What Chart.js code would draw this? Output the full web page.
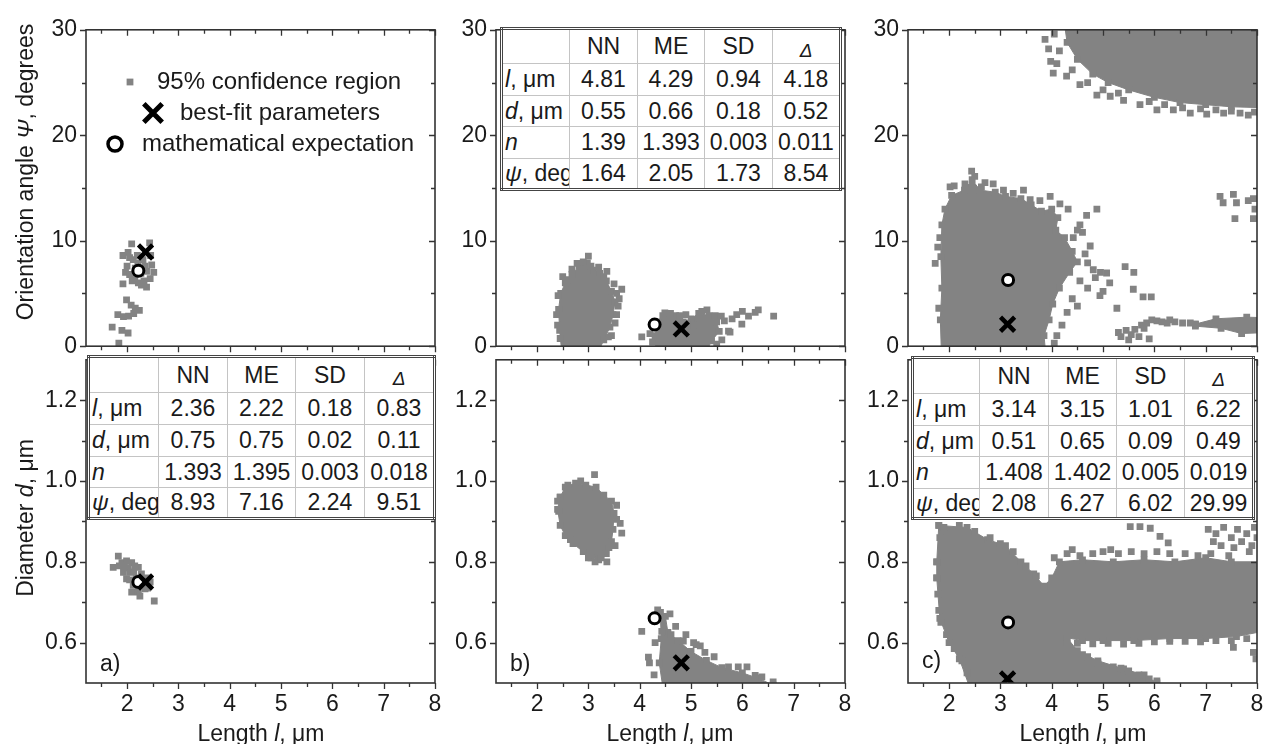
<!DOCTYPE html>
<html>
<head>
<meta charset="utf-8">
<title>Confidence regions: length, diameter, orientation angle</title>
<script src="https://cdn.jsdelivr.net/npm/chart.js@4.4.0/dist/chart.umd.min.js"></script>
<style>
  html, body { margin: 0; padding: 0; background: #fff; }
  body { width: 1263px; height: 744px; position: relative; overflow: hidden;
         font-family: Arial, 'Liberation Sans', sans-serif; color: #1a1a1a; }
  canvas { position: absolute; }
  .txt { position: absolute; font-size: 23px; white-space: nowrap; line-height: 1; }
  .ytitle { transform: translate(-50%, -50%) rotate(-90deg); }
  .xtitle { transform: translate(-50%, -50%); }
  .stats { position: absolute; border-collapse: collapse; table-layout: fixed;
           background: #fff; border: 3px double #444; font-size: 23px; }
  .stats td { border: 1px solid #c4c4c4; padding: 0; text-align: center;
              white-space: nowrap; overflow: hidden; line-height: 1; }
  .stats td.lab { text-align: left; padding-left: 2px; }
  .stats td.delta { font-size: 19px; padding-top: 7px; }
</style>
</head>
<body>

<canvas id="aTop"></canvas>
<canvas id="aBot"></canvas>
<canvas id="bTop"></canvas>
<canvas id="bBot"></canvas>
<canvas id="cTop"></canvas>
<canvas id="cBot"></canvas>

<div class="txt ytitle" style="left:25px; top:172px;">Orientation angle <i>Ψ</i>, degrees</div>
<div class="txt ytitle" style="left:25px; top:518px;">Diameter <i>d</i>, μm</div>
<div class="txt xtitle" style="left:261px; top:733px;">Length <i>l</i>, μm</div>
<div class="txt xtitle" style="left:670px; top:733px;">Length <i>l</i>, μm</div>
<div class="txt xtitle" style="left:1083px; top:733px;">Length <i>l</i>, μm</div>
<div class="txt" style="left:100px; top:652px;">a)</div>
<div class="txt" style="left:510px; top:652px;">b)</div>
<div class="txt" style="left:922px; top:649px;">c)</div>

<script>
// Axis ticks
const X_TICKS = [2, 3, 4, 5, 6, 7, 8];
const X_MINOR = [1.5, 2.5, 3.5, 4.5, 5.5, 6.5, 7.5];
const PSI_TICKS = [0, 10, 20, 30];
const PSI_MINOR = [5, 15, 25];
const D_TICKS = [0.6, 0.8, 1.0, 1.2];
const D_MINOR = [0.7, 0.9, 1.1];

// Table columns: NN, ME, SD, Delta
const STAT_COLS = ['NN', 'ME', 'SD', 'Δ'];
const A_L = [2.36, 2.22, 0.18, 0.83];
const A_D = [0.75, 0.75, 0.02, 0.11];
const A_N = [1.393, 1.395, 0.003, 0.018];
const A_PSI = [8.93, 7.16, 2.24, 9.51];
const B_L = [4.81, 4.29, 0.94, 4.18];
const B_D = [0.55, 0.66, 0.18, 0.52];
const B_N = [1.39, 1.393, 0.003, 0.011];
const B_PSI = [1.64, 2.05, 1.73, 8.54];
const C_L = [3.14, 3.15, 1.01, 6.22];
const C_D = [0.51, 0.65, 0.09, 0.49];
const C_N = [1.408, 1.402, 0.005, 0.019];
const C_PSI = [2.08, 6.27, 6.02, 29.99];

// 95% confidence region samples, [l, psi] and [l, d]
const A_TOP_PTS = [[2.09,9.7],[2.44,9.8],[1.92,8.6],[2.02,8.9],[2.12,8.2],[2.31,8.2],[2.46,8.6],[2.21,7.9],
  [1.97,7.0],[2.05,6.8],[2.15,6.6],[2.27,6.9],[2.38,7.1],[2.52,7.0],[2.45,6.4],[2.33,6.2],[2.22,6.0],
  [2.1,6.2],[1.92,5.9],[2.38,5.6],[2.28,5.8],[2.05,8.4],[2.2,8.6],[2.35,7.6],[2.16,7.4],[2.48,7.7],
  [2.0,7.6],[1.99,4.4],[2.08,3.9],[2.16,3.6],[2.24,3.4],[1.82,3.0],[1.93,2.8],[2.03,2.85],[2.13,3.1],
  [1.71,1.8],[1.9,1.5],[2.02,1.25],[1.84,0.3]];
const A_BOT_PTS = [[1.83,0.814],[1.73,0.786],[1.90,0.798],[1.99,0.802],[2.09,0.798],[2.22,0.786],[1.93,0.774],
  [2.06,0.774],[1.99,0.758],[2.12,0.742],[2.09,0.725],[2.22,0.725],[2.35,0.733],[2.45,0.75],[2.53,0.703],
  [2.15,0.79],[2.02,0.785],[1.85,0.79],[2.28,0.77],[2.18,0.76],[2.3,0.745],[2.4,0.735],[2.25,0.715],
  [2.05,0.755],[1.95,0.79],[2.13,0.775],[2.38,0.76]];

const B_TOP_HULL_1 = [[2.48,-0.5],[2.44,1.5],[2.42,3.5],[2.46,5.0],[2.55,6.0],[2.68,6.8],[2.82,7.6],[2.98,7.9],
  [3.1,7.2],[3.22,6.9],[3.35,6.2],[3.45,5.2],[3.52,4.2],[3.48,3.0],[3.42,1.8],[3.3,0.6],[3.2,-0.5]];
const B_TOP_HULL_2 = [[4.32,-0.5],[4.3,1.0],[4.35,2.3],[4.45,2.9],[4.7,2.9],[4.85,2.3],[5.0,2.6],[5.15,3.1],
  [5.35,2.9],[5.5,2.3],[5.55,1.4],[5.4,0.5],[5.3,-0.5]];
const B_TOP_PTS = [[3.0,8.55],[2.78,7.85],[3.36,7.1],[3.65,5.4],[3.6,4.5],[3.55,3.0],[3.39,0.88],[2.45,0.73],
  [2.41,4.8],[2.58,6.3],[3.2,7.5],[2.9,8.0],[3.05,7.6],[3.5,5.9],[3.58,3.8],[3.45,1.0],[3.52,2.2],
  [2.38,3.0],[2.40,2.0],[2.5,6.6],[2.68,7.3],[3.3,6.6],[3.55,5.0],
  [4.04,0.88],[4.2,1.2],[4.49,3.15],[4.6,3.1],[4.78,2.9],[5.21,3.3],[5.31,3.45],[5.47,2.9],[5.59,2.85],
  [5.73,1.42],[5.76,1.33],[5.89,3.0],[5.99,2.09],[6.12,2.85],[6.31,3.45],[6.25,3.2],[6.61,2.85],
  [5.65,2.4],[5.6,0.6],[5.5,0.2],[4.9,3.0],[5.05,2.0],[4.25,0.4],[5.8,2.6],[6.0,3.3]];

const B_BOT_HULL_1 = [[2.45,0.96],[2.55,0.985],[2.75,0.995],[2.95,0.99],[3.15,0.985],[3.3,0.965],[3.45,0.95],
  [3.5,0.92],[3.48,0.88],[3.45,0.85],[3.35,0.82],[3.2,0.805],[3.05,0.81],[2.9,0.825],[2.7,0.845],
  [2.55,0.865],[2.45,0.89],[2.4,0.93]];
const B_BOT_HULL_2 = [[4.4,0.675],[4.5,0.665],[4.55,0.625],[4.75,0.605],[5.0,0.578],[5.3,0.556],[5.6,0.538],
  [6.0,0.525],[6.3,0.512],[6.6,0.495],[6.6,0.49],[4.45,0.49],[4.38,0.55],[4.42,0.61]];
const B_BOT_PTS = [[3.12,1.016],[3.62,0.895],[3.65,0.871],[3.36,0.80],[3.13,0.80],[2.42,0.925],[2.4,0.95],
  [3.55,0.94],[3.52,0.84],[3.25,0.81],[2.6,0.99],[2.85,1.0],[3.0,0.81],[2.65,0.855],[3.4,0.835],[3.55,0.905],
  [4.35,0.681],[4.59,0.671],[4.04,0.628],[4.43,0.628],[4.61,0.62],[4.85,0.604],[5.18,0.592],[5.27,0.576],
  [4.17,0.564],[4.19,0.55],[5.73,0.54],[5.92,0.54],[6.09,0.54],[6.25,0.519],[6.38,0.515],[6.6,0.503],
  [4.7,0.64],[4.9,0.62],[5.1,0.595],[5.45,0.565],[5.05,0.6],[4.3,0.6],[4.28,0.52]];

const C_TOP_HULL_1 = [[1.85,-0.5],[1.83,2.5],[1.86,5.5],[1.84,8.5],[1.86,11.5],[1.92,13.0],[2.05,14.3],[2.3,14.8],
  [2.45,15.8],[2.6,14.8],[2.9,14.6],[3.1,14.2],[3.4,14.0],[3.6,13.4],[3.8,12.8],[4.0,13.0],[4.12,12.2],
  [4.08,11.0],[4.25,10.3],[4.4,9.0],[4.5,8.0],[4.35,7.0],[4.15,5.5],[4.02,4.0],[3.95,2.5],[3.85,1.0],[3.88,-0.5]];
const C_TOP_HULL_2 = [[4.25,30.5],[4.3,28.8],[4.5,27.2],[4.8,25.8],[5.1,25.0],[5.5,24.3],[6.0,23.6],[6.5,23.1],
  [7.0,22.9],[7.5,22.7],[8.2,22.6],[8.2,30.5]];
const C_TOP_HULL_3 = [[6.8,2.1],[7.2,2.6],[7.8,2.75],[8.2,2.7],[8.2,1.3],[7.7,1.2],[7.3,1.7],[6.8,1.9]];
const C_TOP_PTS = [[1.73,7.85],[1.82,10.3],[1.78,9.4],[1.8,3.6],[2.02,15.1],[2.31,15.4],[2.44,16.6],[2.5,16.1],
  [2.63,15.1],[2.86,15.4],[3.06,14.8],[3.25,14.5],[3.45,14.8],[3.58,13.9],[3.77,13.8],[3.97,14.2],
  [4.16,13.5],[4.32,13.0],[4.68,12.4],[4.88,13.0],[4.55,11.5],[4.42,10.3],[4.65,8.75],[4.81,7.25],
  [5.07,6.94],[5.13,6.0],[4.94,4.8],[5.27,3.6],[5.43,7.55],[5.6,7.0],[5.59,5.4],[5.78,4.67],[5.94,4.67],
  [4.6,10.8],[4.5,11.0],[4.75,9.5],[4.7,7.9],[4.55,6.2],[4.7,5.5],[4.85,6.5],[4.95,7.0],[5.0,5.2],
  [4.4,4.5],[4.3,3.2],[4.5,3.8],[4.2,2.0],[4.1,1.0],[4.05,0.3],[2.1,15.2],[2.7,15.5],
  [3.87,29.1],[3.94,28.2],[4.1,26.8],[4.03,25.9],[4.29,25.6],[4.55,24.8],[4.88,23.8],[5.14,23.7],
  [5.4,23.3],[5.72,22.9],[6.05,22.4],[6.37,22.4],[6.7,22.1],[7.02,22.0],[7.35,22.1],[7.67,22.1],
  [7.83,21.9],[4.05,29.6],[4.15,28.0],[4.4,26.2],[4.7,25.0],[5.0,24.3],[5.3,24.0],[5.9,23.2],[6.2,22.9],
  [6.55,22.6],[6.9,22.5],[7.2,22.4],[7.5,22.3],[7.95,22.2],[3.98,27.0],
  [5.3,1.3],[5.35,0.9],[5.45,1.5],[5.5,0.6],[5.55,1.1],[5.62,1.6],[5.7,0.9],[5.75,2.0],[5.85,2.2],
  [5.95,2.5],[6.05,2.4],[6.15,2.3],[6.25,2.2],[6.4,2.3],[6.55,2.2],[6.7,2.2],[5.9,0.7],[5.8,1.7],[6.3,2.5],
  [7.28,14.2],[7.54,14.4],[7.34,13.6],[7.6,13.6],[7.57,12.1],[7.83,13.8],[7.93,14.0],[7.93,12.1],[7.96,13.0]];

const C_BOT_HULL_1 = [[1.8,0.89],[2.35,0.885],[2.75,0.855],[3.1,0.84],[3.4,0.80],[3.65,0.77],[3.85,0.74],
  [4.0,0.76],[4.15,0.80],[4.6,0.805],[5.2,0.80],[5.8,0.805],[6.4,0.80],[7.0,0.81],[7.5,0.80],[8.2,0.80],
  [8.2,0.63],[7.6,0.615],[7.0,0.61],[6.3,0.61],[5.6,0.605],[5.0,0.605],[4.6,0.605],[4.3,0.612],
  [4.5,0.58],[4.9,0.555],[5.4,0.535],[5.8,0.52],[6.05,0.5],[6.05,0.49],[2.4,0.49],[2.2,0.56],
  [2.0,0.6],[1.82,0.66],[1.76,0.76],[1.76,0.80]];
const C_BOT_PTS = [[1.76,0.80],[1.76,0.76],[1.78,0.72],[1.8,0.68],[1.84,0.65],[1.95,0.62],[2.1,0.585],
  [2.25,0.555],[2.35,0.525],[1.82,0.86],[1.9,0.885],
  [2.2,0.89],[2.5,0.875],[2.8,0.86],[3.0,0.845],[3.25,0.825],[3.5,0.79],[3.7,0.765],
  [4.05,0.81],[4.3,0.82],[4.55,0.815],[4.8,0.82],[5.0,0.825],[5.3,0.82],[5.55,0.825],[5.8,0.82],
  [6.05,0.825],[6.3,0.82],[6.6,0.82],[6.85,0.815],[7.1,0.82],
  [5.53,0.887],[5.72,0.887],[5.92,0.883],[6.11,0.863],[6.27,0.847],[4.4,0.83],[5.15,0.83],
  [7.05,0.88],[7.2,0.87],[7.35,0.885],[7.5,0.86],[7.62,0.88],[7.8,0.87],[7.95,0.885],[7.3,0.84],
  [7.55,0.835],[7.7,0.85],[7.9,0.84],[7.45,0.815],[7.85,0.825],[8.0,0.86],[7.15,0.85],
  [4.5,0.598],[4.8,0.597],[5.1,0.598],[5.4,0.596],[5.7,0.598],[6.0,0.602],[6.3,0.603],[6.6,0.603],
  [6.9,0.602],[7.2,0.605],[7.5,0.605],[7.54,0.588],[7.8,0.61],[7.93,0.576],[7.98,0.56],
  [4.3,0.6],[4.6,0.57],[4.9,0.55],[5.2,0.54],[5.5,0.53],[5.7,0.52],[5.9,0.51],[6.05,0.505],
  [4.7,0.565],[5.35,0.537]];

const GRAY = '#838383';
const INK = '#1a1a1a';
const FONT = "Arial, 'Liberation Sans', sans-serif";
const PLOT_W = 349;
const PLOT_H = 330;
const COL_LEFT = [86, 496, 908];
const TOP_Y = 23;
const MID_Y = 353;
const PAD = { left: 76, top: 16, right: 16 };

// Legend rows drawn inside the upper-left panel (dataset index in that panel)
const LEGEND_ROWS = [
  { dataset: 0, x: 120, y: 75, textX: 147, radius: 4.8, borderWidth: 0 },
  { dataset: 1, x: 143, y: 106, textX: 170, radius: 13, borderWidth: 5 },
  { dataset: 2, x: 105, y: 137, textX: 132, radius: 7, borderWidth: 3.5 }
];

const toXY = arr => arr.map(([x, y]) => ({ x, y }));
const closed = arr => toXY(arr.concat([arr[0]]));

// Filled polygon for the dense part of a cloud; its vertices show as squares.
// Higher "order" is painted first, so hulls sit underneath everything.
function hullDataset(hull) {
  return {
    order: 3,
    data: closed(hull),
    showLine: true,
    fill: 'shape',
    backgroundColor: GRAY,
    borderColor: GRAY,
    borderWidth: 1,
    tension: 0,
    pointStyle: 'rect',
    pointRadius: 4.8,
    pointBackgroundColor: GRAY,
    pointBorderWidth: 0
  };
}

function cloudDataset(pts) {
  return {
    order: 2,
    label: '95% confidence region',
    data: toXY(pts),
    pointStyle: 'rect',
    pointRadius: 4.8,
    pointBackgroundColor: GRAY,
    pointBorderColor: GRAY,
    pointBorderWidth: 0
  };
}

function bestFitDataset(x, y) {
  return {
    order: 0,
    label: 'best-fit parameters',
    data: [{ x, y }],
    pointStyle: 'crossRot',
    pointRadius: 10,
    pointBackgroundColor: '#000',
    pointBorderColor: '#000',
    pointBorderWidth: 4.5
  };
}

function expectationDataset(x, y) {
  return {
    order: 1,
    label: 'mathematical expectation',
    data: [{ x, y }],
    pointStyle: 'circle',
    pointRadius: 5.5,
    pointBackgroundColor: '#fff',
    pointBorderColor: '#000',
    pointBorderWidth: 3
  };
}

// Frame plus tick marks: outward on left/bottom, inward on top/right
function frameTicks(yMajor, yMinor) {
  return {
    id: 'frameTicks',
    afterDatasetsDraw(chart) {
      const { ctx, chartArea: a, scales: { x, y } } = chart;
      ctx.save();
      ctx.strokeStyle = '#333';
      ctx.lineWidth = 1.6;
      ctx.strokeRect(a.left, a.top, a.right - a.left, a.bottom - a.top);
      ctx.lineWidth = 1.3;
      ctx.beginPath();
      const xt = (vals, len) => vals.forEach(v => {
        const px = Math.round(x.getPixelForValue(v)) + 0.5;
        ctx.moveTo(px, a.bottom); ctx.lineTo(px, a.bottom + len);
        ctx.moveTo(px, a.top); ctx.lineTo(px, a.top + len);
      });
      const yt = (vals, len) => vals.forEach(v => {
        const py = Math.round(y.getPixelForValue(v)) + 0.5;
        ctx.moveTo(a.left, py); ctx.lineTo(a.left - len, py);
        ctx.moveTo(a.right, py); ctx.lineTo(a.right - len, py);
      });
      xt(X_TICKS, 6); xt(X_MINOR, 4);
      yt(yMajor, 6); yt(yMinor, 4);
      ctx.stroke();
      ctx.restore();
    }
  };
}

const insideLegend = {
  id: 'insideLegend',
  afterDatasetsDraw(chart) {
    const ctx = chart.ctx;
    LEGEND_ROWS.forEach(row => {
      const ds = chart.data.datasets[row.dataset];
      ctx.save();
      ctx.fillStyle = ds.pointBackgroundColor;
      ctx.strokeStyle = ds.pointBorderColor;
      ctx.lineWidth = row.borderWidth;
      Chart.helpers.drawPoint(ctx, { pointStyle: ds.pointStyle, radius: row.radius,
        borderWidth: row.borderWidth, rotation: 0 }, row.x, row.y);
      ctx.fillStyle = INK;
      ctx.font = '24px ' + FONT;
      ctx.textBaseline = 'middle';
      ctx.fillText(ds.label, row.textX, row.y);
      ctx.restore();
    });
  }
};

// One scatter panel in its own canvas
function makePanel(id, col, isBottom, datasets, extraPlugins) {
  const bottom = isBottom ? 50 : 16;
  const canvas = document.getElementById(id);
  canvas.width = PAD.left + PLOT_W + PAD.right;
  canvas.height = PAD.top + PLOT_H + bottom;
  canvas.style.left = (COL_LEFT[col] - PAD.left) + 'px';
  canvas.style.top = ((isBottom ? MID_Y : TOP_Y) - PAD.top) + 'px';

  const yTicks = isBottom ? D_TICKS : PSI_TICKS;
  const yMinor = isBottom ? D_MINOR : PSI_MINOR;
  const tickFont = { family: FONT, size: 23 };

  return new Chart(canvas.getContext('2d'), {
    type: 'scatter',
    data: { datasets },
    options: {
      responsive: false,
      animation: false,
      events: [],
      layout: { padding: { left: 0, top: PAD.top, right: PAD.right, bottom: 0 } },
      plugins: { legend: { display: false }, tooltip: { enabled: false } },
      scales: {
        x: {
          type: 'linear', min: 1.2, max: 8,
          grid: { display: false, drawTicks: false },
          border: { display: false },
          afterBuildTicks: s => { s.ticks = X_TICKS.map(v => ({ value: v })); },
          afterFit: s => { s.height = bottom; },
          ticks: { display: isBottom, autoSkip: false, maxRotation: 0, padding: 8,
                   color: INK, font: tickFont, callback: v => String(v) }
        },
        y: {
          type: 'linear',
          min: isBottom ? 0.5 : 0,
          max: isBottom ? 1.3 : 30,
          grid: { display: false, drawTicks: false },
          border: { display: false },
          afterBuildTicks: s => { s.ticks = yTicks.map(v => ({ value: v })); },
          afterFit: s => { s.width = PAD.left; },
          ticks: { autoSkip: false, padding: 9, color: INK, font: tickFont,
                   callback: v => isBottom ? v.toFixed(1) : String(v) }
        }
      }
    },
    plugins: [frameTicks(yTicks, yMinor)].concat(extraPlugins || [])
  });
}

// Statistics table laid over a panel
function makeTable(left, top, colWidths, rowHeights, L, D, N, PSI) {
  const rows = [
    ['<i>l</i>, μm', L],
    ['<i>d</i>, μm', D],
    ['<i>n</i>', N],
    ['<i>ψ</i>, deg', PSI]
  ];
  let html = '<colgroup>' + colWidths.map(w => `<col style="width:${w}px">`).join('') + '</colgroup>';
  html += `<tr style="height:${rowHeights[0]}px"><td></td>` +
    STAT_COLS.map(c => c === 'Δ' ? `<td class="delta"><i>${c}</i></td>` : `<td>${c}</td>`).join('') + '</tr>';
  rows.forEach((r, i) => {
    html += `<tr style="height:${rowHeights[i + 1]}px"><td class="lab">${r[0]}</td>` +
      r[1].map(v => `<td>${v}</td>`).join('') + '</tr>';
  });
  const table = document.createElement('table');
  table.className = 'stats';
  table.style.left = left + 'px';
  table.style.top = top + 'px';
  table.style.width = colWidths.reduce((s, w) => s + w, 0) + 'px';
  table.innerHTML = html;
  document.body.appendChild(table);
}

// Column a
makePanel('aTop', 0, false, [
  cloudDataset(A_TOP_PTS),
  bestFitDataset(A_L[0], A_PSI[0]),
  expectationDataset(A_L[1], A_PSI[1])
], [insideLegend]);
makePanel('aBot', 0, true, [
  cloudDataset(A_BOT_PTS),
  bestFitDataset(A_L[0], A_D[0]),
  expectationDataset(A_L[1], A_D[1])
]);

// Column b
makePanel('bTop', 1, false, [
  hullDataset(B_TOP_HULL_1),
  hullDataset(B_TOP_HULL_2),
  cloudDataset(B_TOP_PTS),
  bestFitDataset(B_L[0], B_PSI[0]),
  expectationDataset(B_L[1], B_PSI[1])
]);
makePanel('bBot', 1, true, [
  hullDataset(B_BOT_HULL_1),
  hullDataset(B_BOT_HULL_2),
  cloudDataset(B_BOT_PTS),
  bestFitDataset(B_L[0], B_D[0]),
  expectationDataset(B_L[1], B_D[1])
]);

// Column c
makePanel('cTop', 2, false, [
  hullDataset(C_TOP_HULL_1),
  hullDataset(C_TOP_HULL_2),
  hullDataset(C_TOP_HULL_3),
  cloudDataset(C_TOP_PTS),
  bestFitDataset(C_L[0], C_PSI[0]),
  expectationDataset(C_L[1], C_PSI[1])
]);
makePanel('cBot', 2, true, [
  hullDataset(C_BOT_HULL_1),
  cloudDataset(C_BOT_PTS),
  bestFitDataset(C_L[0], C_D[0]),
  expectationDataset(C_L[1], C_D[1])
]);

makeTable(87, 355, [70, 69, 68, 69, 70], [36, 32, 32, 31, 31], A_L, A_D, A_N, A_PSI);
makeTable(500, 27, [68, 68, 67, 68, 68], [35, 32, 31, 32, 31], B_L, B_D, B_N, B_PSI);
makeTable(911, 356, [67, 69, 68, 68, 69], [36, 32, 31, 32, 30], C_L, C_D, C_N, C_PSI);
</script>
</body>
</html>
